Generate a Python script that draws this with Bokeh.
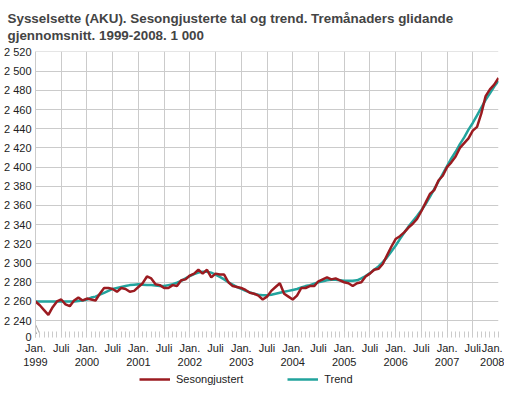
from bokeh.plotting import figure
from bokeh.layouts import column
from bokeh.models import (Range1d, FixedTicker, Legend, LegendItem,
                          ColumnDataSource)
from bokeh.embed import file_html
from bokeh.resources import INLINE

# ---------------- data ----------------
months = list(range(109))  # 0 = Jan 1999 ... 108 = Jan 2008

sesongjustert = [
    2260, 2256, 2251, 2246, 2254, 2260, 2262, 2257, 2255, 2261, 2264, 2261,
    2263, 2262, 2261, 2268, 2274, 2274, 2273, 2270, 2274, 2273, 2270, 2271,
    2275, 2279, 2286, 2284, 2278, 2277, 2274, 2274, 2277, 2276, 2282, 2283,
    2287, 2289, 2293, 2289, 2293, 2285, 2289, 2288, 2288, 2280, 2276, 2275,
    2274, 2272, 2269, 2268, 2266, 2262, 2265, 2271, 2275, 2279, 2268, 2265,
    2262, 2266, 2274, 2274, 2276, 2276, 2281, 2283, 2285, 2283, 2284, 2282,
    2280, 2279, 2276, 2279, 2280, 2286, 2289, 2293, 2294, 2299, 2308, 2317,
    2325, 2328, 2332, 2337, 2341, 2346, 2354, 2363, 2372, 2376, 2386, 2391,
    2400, 2405, 2411, 2420, 2425, 2430, 2438, 2442, 2456, 2474, 2481, 2486,
    2493,
]

trend = [
    2260, 2260, 2260, 2260, 2260, 2260, 2260, 2260, 2260, 2260, 2260.5, 2261,
    2262, 2264, 2265, 2267, 2269, 2271, 2273, 2274, 2275, 2276, 2277, 2277.5,
    2278, 2277.5, 2277, 2277, 2276.5, 2276, 2276, 2277, 2278, 2279.5, 2281.5, 2284,
    2286.5, 2288.5, 2290, 2291, 2291, 2290, 2288, 2285.5, 2283, 2280, 2277.5, 2275,
    2273, 2271, 2269.5, 2268, 2267, 2266.5, 2266.5, 2267, 2268, 2269, 2270, 2271,
    2272, 2273, 2274.5, 2276, 2277, 2278.5, 2280, 2281, 2282, 2282.5, 2282.5, 2282,
    2281.5, 2281.5, 2281.5, 2282, 2284, 2286.5, 2289.5, 2293, 2296.5, 2301, 2306, 2312,
    2318, 2325, 2331.5, 2338, 2343.5, 2349, 2355, 2361.5, 2369, 2377, 2385, 2393,
    2401, 2409, 2416, 2424, 2431, 2439, 2446, 2454, 2462, 2470, 2477, 2484,
    2490,
]

x_tick_pos = [0, 6, 12, 18, 24, 30, 36, 42, 48, 54, 60, 66, 72, 78, 84, 90, 96, 102, 108]
x_tick_labels = ["Jan.\n1999", "Juli", "Jan.\n2000", "Juli", "Jan.\n2001", "Juli",
                 "Jan.\n2002", "Juli", "Jan.\n2003", "Juli", "Jan.\n2004", "Juli",
                 "Jan.\n2005", "Juli", "Jan.\n2006", "Juli", "Jan.\n2007", "Juli",
                 "Jan.\n2008"]

y_ticks = [2240, 2260, 2280, 2300, 2320, 2340, 2360, 2380, 2400, 2420, 2440,
           2460, 2480, 2500, 2520]
y_tick_labels = ["2 240", "2 260", "2 280", "2 300", "2 320", "2 340", "2 360",
                 "2 380", "2 400", "2 420", "2 440", "2 460", "2 480", "2 500",
                 "2 520"]
zero_pos = 2223          # broken-axis position standing for 0
zero_label = "0"

series_names = ["Sesongjustert", "Trend"]

title_1 = "Sysselsette (AKU). Sesongjusterte tal og trend. Tremånaders glidande"
title_2 = "gjennomsnitt. 1999-2008. 1 000"

# ---------------- styling ----------------
RED = "#9b1b20"
TEAL = "#22a39d"
GRID = "#cbcbcb"
FONT = "Liberation Sans"

src = ColumnDataSource(dict(m=months, s=sesongjustert, t=trend))

p = figure(frame_width=463, frame_height=286, output_backend="svg",
           toolbar_location=None,
           x_range=Range1d(0, 108), y_range=Range1d(zero_pos - 0.6, 2520.5),
           min_border_left=0, min_border_right=6, min_border_top=0,
           min_border_bottom=0)
p.outline_line_color = None
p.background_fill_color = "white"
p.border_fill_color = "white"

# title (two lines)
p.title.text = title_1 + "\n" + title_2
p.title.text_font = FONT
p.title.text_font_size = "13.4px"
p.title.text_font_style = "bold"
p.title.text_line_height = 1.16
p.title.align = "left"
p.title.offset = -28
p.title.standoff = 17

# grids
p.xgrid.ticker = FixedTicker(ticks=x_tick_pos)
p.ygrid.ticker = FixedTicker(ticks=y_ticks)
p.xgrid.grid_line_color = GRID
p.ygrid.grid_line_color = GRID

# x axis
p.xaxis.ticker = FixedTicker(ticks=x_tick_pos, minor_ticks=months)
p.xaxis.major_label_overrides = dict(zip(x_tick_pos, x_tick_labels))
p.xaxis.axis_line_color = None
p.xaxis.major_tick_in = 0
p.xaxis.major_tick_out = 0
p.xaxis.minor_tick_in = 6
p.xaxis.minor_tick_out = 0
p.xaxis.minor_tick_line_color = GRID
p.xaxis.major_label_standoff = 4
p.xaxis.major_label_text_font = FONT
p.xaxis.major_label_text_font_size = "11px"
p.xaxis.major_label_text_color = "#222222"

# y axis
p.yaxis.ticker = FixedTicker(ticks=[zero_pos] + y_ticks)
ov = dict(zip(y_ticks, y_tick_labels))
ov[zero_pos] = zero_label
p.yaxis.major_label_overrides = ov
p.yaxis.axis_line_color = GRID
p.yaxis.major_tick_in = 0
p.yaxis.major_tick_out = 0
p.yaxis.minor_tick_line_color = None
p.yaxis.major_label_standoff = 4
p.yaxis.major_label_text_font = FONT
p.yaxis.major_label_text_font_size = "11px"
p.yaxis.major_label_text_color = "#222222"

# axis break marker (decoration)
p.segment(x0=[-0.9, -0.2], y0=[2238, 2238], x1=[0.3, 1.0], y1=[2226, 2226],
          line_color="#aaaaaa", line_width=1)

# lines
p.line("m", "t", source=src, line_color=TEAL, line_width=2.5)
p.line("m", "s", source=src, line_color=RED, line_width=2.5)

# ---------------- legend strip ----------------
leg = figure(width=496, height=18, output_backend="svg", toolbar_location=None,
             x_range=Range1d(0, 1), y_range=Range1d(0, 1),
             x_axis_type=None, y_axis_type=None, min_border=0)
leg.outline_line_color = None
leg.grid.visible = False
# legend keys only (a single NaN point each, nothing drawn in the strip)
leg_src = ColumnDataSource(dict(x=[float("nan")], y=[float("nan")]))
k_s = leg.line("x", "y", source=leg_src, line_color=RED, line_width=2.5)
k_t = leg.line("x", "y", source=leg_src, line_color=TEAL, line_width=2.5)
legend = Legend(items=[LegendItem(label=series_names[0], renderers=[k_s]),
                       LegendItem(label=series_names[1], renderers=[k_t])],
                orientation="horizontal", location=(104, 2),
                glyph_width=31, glyph_height=14, label_height=14,
                label_standoff=6, spacing=44,
                padding=0, margin=0, border_line_color=None,
                background_fill_alpha=0, label_text_font=FONT,
                label_text_font_size="11px", label_text_color="#222222")
leg.add_layout(legend)

page = column(p, leg, spacing=0)

open("out.html", "w").write(file_html(page, INLINE))
